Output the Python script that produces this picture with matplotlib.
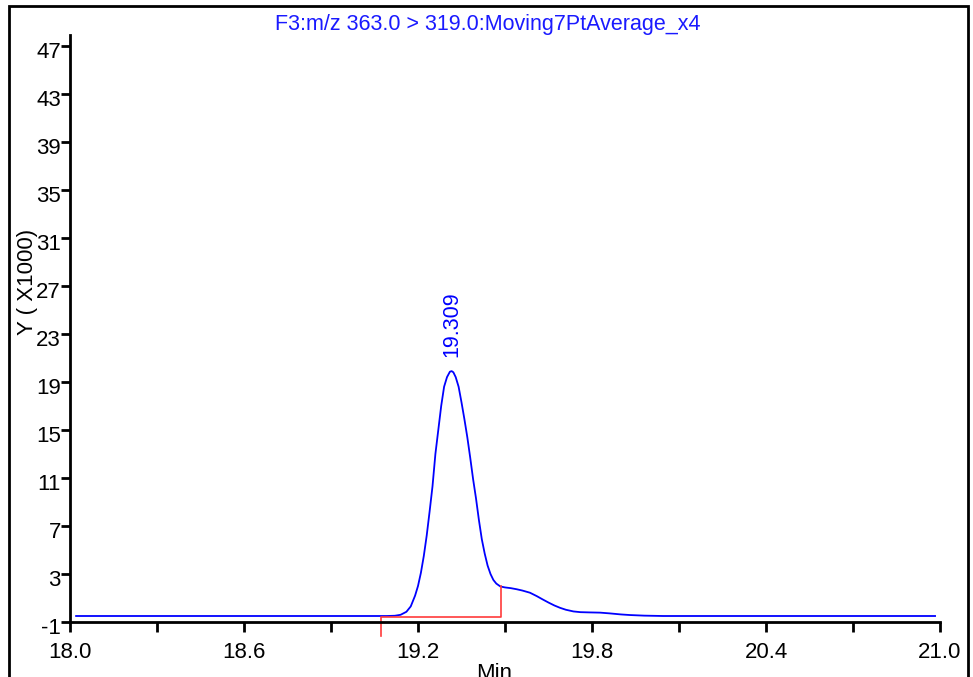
import matplotlib
matplotlib.use("Agg")
import matplotlib.pyplot as plt
from matplotlib.patches import Rectangle
from matplotlib.transforms import ScaledTranslation

plt.rcParams['font.family'] = ['Liberation Sans', 'DejaVu Sans']

# retention time (min) and intensity (x1000)
time_min = [18.021, 19.000, 19.092, 19.120, 19.140, 19.160, 19.175, 19.190,
            19.200, 19.210, 19.220, 19.230, 19.240, 19.250, 19.260, 19.270,
            19.280, 19.290, 19.300, 19.310, 19.316, 19.322, 19.330, 19.340,
            19.350, 19.360, 19.370, 19.380, 19.390, 19.400, 19.410, 19.420,
            19.430, 19.440, 19.450, 19.460, 19.470, 19.484, 19.500, 19.520,
            19.540, 19.560, 19.586, 19.610, 19.630, 19.650, 19.670, 19.690,
            19.710, 19.736, 19.760, 19.790, 19.828, 19.860, 19.900, 19.931,
            19.980, 20.045, 20.983]
intensity = [-0.5, -0.5, -0.5, -0.48, -0.4, -0.15, 0.3, 1.2,
             2.0, 3.1, 4.5, 6.2, 8.2, 10.3, 13.0, 15.0,
             17.0, 18.6, 19.4, 19.85, 19.9, 19.8, 19.4, 18.6,
             17.3, 15.9, 14.4, 12.7, 10.9, 9.3, 7.5, 5.9,
             4.7, 3.7, 3.0, 2.5, 2.2, 1.96, 1.88, 1.82,
             1.73, 1.62, 1.44, 1.15, 0.88, 0.62, 0.38, 0.18,
             0.02, -0.12, -0.18, -0.2, -0.22, -0.28, -0.37, -0.42,
             -0.47, -0.5, -0.5]

# integration baseline (red)
base_x = [19.072, 19.072, 19.485, 19.485]
base_y = [-2.2, -0.58, -0.58, 1.96]

peak_label = "19.309"
title = "F3:m/z 363.0 > 319.0:Moving7PtAverage_x4"

x_ticks = [18.0, 18.3, 18.6, 18.9, 19.2, 19.5, 19.8, 20.1, 20.4, 20.7, 21.0]
x_labels = ["18.0", "", "18.6", "", "19.2", "", "19.8", "", "20.4", "", "21.0"]
y_ticks = [-1, 3, 7, 11, 15, 19, 23, 27, 31, 35, 39, 43, 47]

W, H = 973, 677
fig = plt.figure(figsize=(W / 100, H / 100), dpi=100)
ax = fig.add_axes([70 / W, 1 - 622 / H, 870 / W, (622 - 35) / H])

ax.plot(time_min, intensity, color='#0000ff', lw=1.3)
ax.plot(base_x, base_y, color='#ff3b3b', lw=1.2, clip_on=False)

peak_y = max(intensity)
ax.annotate(peak_label, xy=(time_min[intensity.index(peak_y)], peak_y),
            xytext=(0, 10), textcoords='offset points', rotation=90,
            ha='center', va='bottom', color='#0000ff', fontsize=15.5)

ax.set_xlim(18.0, 21.0)
ax.set_ylim(-1, 47.9)
ax.set_xticks(x_ticks)
ax.set_xticklabels(x_labels)
ax.set_yticks(y_ticks)
ax.set_yticklabels([str(v) for v in y_ticks])

for side in ['top', 'right']:
    ax.spines[side].set_visible(False)
for side in ['left', 'bottom']:
    ax.spines[side].set_linewidth(2)
ax.tick_params(axis='x', direction='out', length=7.5, width=2, pad=7,
               labelsize=16)
ax.tick_params(axis='y', direction='out', length=6.5, width=2, pad=0,
               labelsize=16)

# y labels sit a touch below their ticks in the original
off = ScaledTranslation(0, -4 / 100, fig.dpi_scale_trans)
for lab in ax.get_yticklabels():
    lab.set_transform(lab.get_transform() + off)

ax.set_title(title, color='#1a1aff', fontsize=15.5, x=0.48, pad=2)
ax.set_ylabel("Y ( X1000)", fontsize=16)
ax.yaxis.set_label_coords(-0.037, 0.58)
ax.set_xlabel("Min", fontsize=16)
ax.xaxis.set_label_coords(0.488, -0.07)

# outer frame
fig.patches.append(Rectangle((9 / W, -0.05), 959 / W, 1.05 - 6 / H,
                             transform=fig.transFigure, fill=False,
                             edgecolor='black', lw=2))

fig.savefig("out.png", dpi=100)
